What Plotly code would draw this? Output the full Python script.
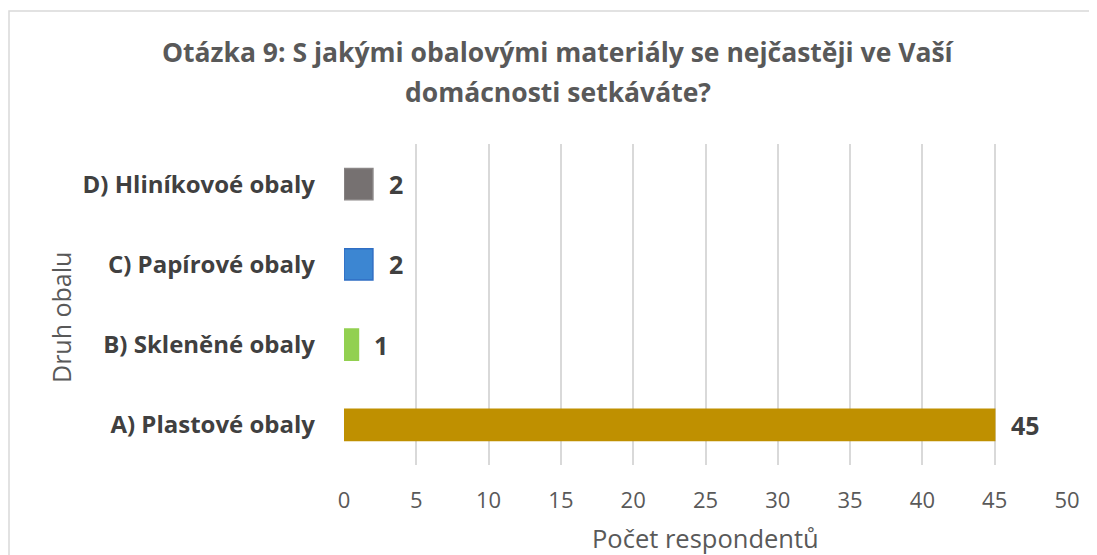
import plotly.graph_objects as go

categories = ["A) Plastové obaly", "B) Skleněné obaly", "C) Papírové obaly", "D) Hliníkovoé obaly"]
values = [45, 1, 2, 2]
colors = ["#BF9000", "#92D050", "#3C86D2", "#767171"]
line_colors = ["#BF9000", "#92D050", "#2F6EC4", "#8A8686"]
x_ticks = [0, 5, 10, 15, 20, 25, 30, 35, 40, 45, 50]

title_lines = ["Otázka 9: S jakými obalovými materiály se nejčastěji ve Vaší", "domácnosti setkáváte?"]
x_title = "Počet respondentů"
y_title = "Druh obalu"

FONT = "Open Sans"

# page has an 8px body margin; plot area spans page px x 344..1067, y 144..465
W, H = 1089, 547
PL, PR, PT, PB = 344, 1067, 144, 465


def px(x):
    return (x - PL) / (PR - PL)


def py(y):
    return (PB - y) / (PB - PT)


fig = go.Figure()
fig.add_trace(go.Bar(
    y=categories, x=values, orientation="h",
    marker=dict(color=colors, line=dict(color=line_colors, width=1.5)),
    hoverinfo="skip",
))

for c, v in zip(categories, values):
    fig.add_annotation(x=v, y=c, xref="x", yref="y", text=f"<b>{v}</b>",
                       showarrow=False, xanchor="left", xshift=14,
                       font=dict(family=FONT, size=25, color="#404040"))

fig.update_layout(
    width=W, height=H,
    margin=dict(l=PL - 8, r=W + 8 - PR, t=PT - 8, b=H + 8 - PB),
    paper_bgcolor="white", plot_bgcolor="white",
    showlegend=False,
    bargap=0.61,
    font=dict(family=FONT, color="#595959"),
    xaxis=dict(range=[0, 50], tickvals=x_ticks, showgrid=True, gridcolor="#D9D9D9", gridwidth=1.5,
               zeroline=False, showline=False, ticks="",
               tickfont=dict(family=FONT, size=22, color="#595959"), ticklabelstandoff=20),
    yaxis=dict(showgrid=False, zeroline=False, showline=False, ticks="",
               tickfont=dict(family=FONT, size=24, color="#404040"), ticklabelstandoff=28,
               tickprefix="<b>", ticksuffix="</b>"),
    shapes=[dict(type="rect", xref="paper", yref="paper",
                 x0=px(9), x1=px(1102), y0=py(560), y1=py(11),
                 line=dict(color="#D9D9D9", width=1.5), layer="below")],
)

for line, yy in zip(title_lines, [52, 92]):
    fig.add_annotation(x=px(558), y=py(yy), xref="paper", yref="paper",
                       text=f"<b>{line}</b>", showarrow=False, xanchor="center", yanchor="middle",
                       font=dict(family=FONT, size=26.5, color="#595959"))
fig.add_annotation(x=px(705), y=py(538), xref="paper", yref="paper",
                   text=x_title, showarrow=False, xanchor="center", yanchor="middle",
                   font=dict(family=FONT, size=25.5, color="#595959"))
fig.add_annotation(x=px(61), y=py(318), xref="paper", yref="paper",
                   text=y_title, showarrow=False, xanchor="center", yanchor="middle", textangle=-90,
                   font=dict(family=FONT, size=25, color="#595959"))

fig.write_html("out.html")
